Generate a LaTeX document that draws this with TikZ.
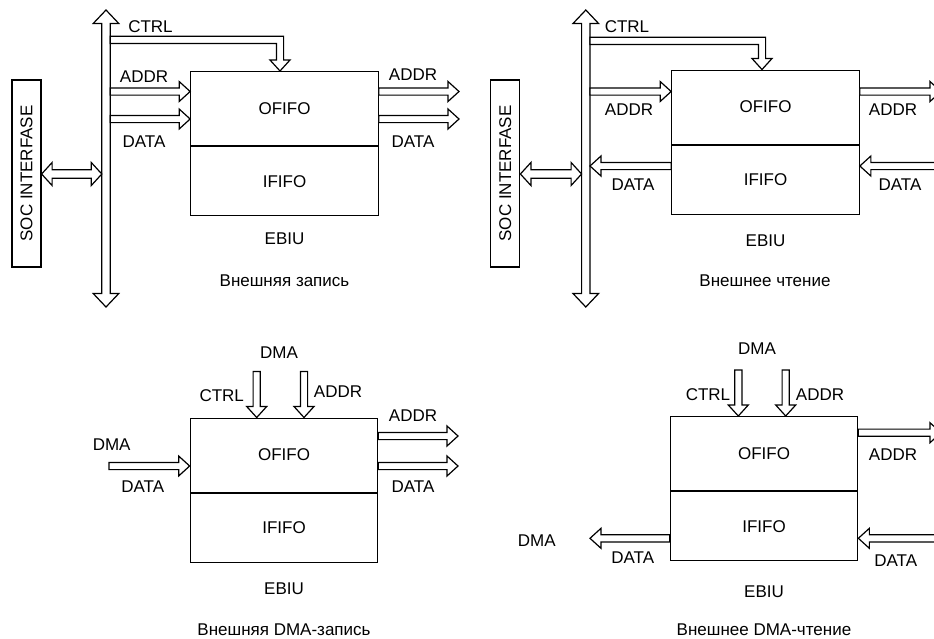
\documentclass[tikz,border=0pt]{standalone}
\usepackage{fontspec}
\setmainfont{Liberation Sans}
\usetikzlibrary{calc}
\newcommand\lblfont{\fontsize{17}{20}\selectfont}

\tikzset{
  % outlined bus arrow: #1 half shaft, #2 half head, #3 head length
  onehead/.style n args={3}{draw, fill=white, line width=1.2pt, line join=miter,
    to path={($(\tikztostart)!#1!90:(\tikztotarget)$)
      -- ($(\tikztotarget)!#3!(\tikztostart)!#1!-90:(\tikztostart)$)
      -- ($(\tikztotarget)!#3!(\tikztostart)!#2!-90:(\tikztostart)$)
      -- (\tikztotarget)
      -- ($(\tikztotarget)!#3!(\tikztostart)!#2!90:(\tikztostart)$)
      -- ($(\tikztotarget)!#3!(\tikztostart)!#1!90:(\tikztostart)$)
      -- ($(\tikztostart)!#1!-90:(\tikztotarget)$) -- cycle}},
  twohead/.style n args={3}{draw, fill=white, line width=1.2pt, line join=miter,
    to path={(\tikztostart)
      -- ($(\tikztostart)!#3!(\tikztotarget)!#2!90:(\tikztotarget)$)
      -- ($(\tikztostart)!#3!(\tikztotarget)!#1!90:(\tikztotarget)$)
      -- ($(\tikztotarget)!#3!(\tikztostart)!#1!-90:(\tikztostart)$)
      -- ($(\tikztotarget)!#3!(\tikztostart)!#2!-90:(\tikztostart)$)
      -- (\tikztotarget)
      -- ($(\tikztotarget)!#3!(\tikztostart)!#2!90:(\tikztostart)$)
      -- ($(\tikztotarget)!#3!(\tikztostart)!#1!90:(\tikztostart)$)
      -- ($(\tikztostart)!#3!(\tikztotarget)!#1!-90:(\tikztotarget)$)
      -- ($(\tikztostart)!#3!(\tikztotarget)!#2!-90:(\tikztotarget)$)
      -- cycle}},
  pipe/.style={onehead={3.6pt}{10pt}{11pt}},
  bus/.style={twohead={4.2pt}{12.8pt}{13.5pt}},
  link/.style={twohead={4.2pt}{11.5pt}{10.5pt}},
  tube/.style={draw, fill=white, line width=1.2pt, line join=miter},
  fifo/.style={draw, line width=1.2pt, minimum width=187.5pt, inner sep=0pt, font=\lblfont},
  socbox/.style={draw, line width=1.2pt, minimum width=29pt, minimum height=187pt, inner sep=0pt, font=\lblfont},
  lbl/.style={inner sep=0pt, text height=12.2pt, text depth=0pt, font=\lblfont},
}

\begin{document}
\begin{tikzpicture}[x=1pt, y=-1pt]
  \useasboundingbox (0,0) rectangle (934,638);
  \clip (0,0) rectangle (934,638);

  % EBIU blocks, one per mode
  \foreach \nm/\cx/\ty/\ey in {a/284.5/71/238, b/765.5/69.5/240, c/284/417.5/588, d/764/416/591.7} {
    \node[fifo, minimum height=74pt, anchor=north] (ofifo-\nm) at (\cx,\ty) {OFIFO};
    \node[fifo, minimum height=69pt, anchor=north] (ififo-\nm) at (ofifo-\nm.south) {IFIFO};
    \node[lbl] (ebiu-\nm) at (\cx,\ey) {EBIU};
  }

  % system bus and SoC interface (top row)
  \foreach \nm/\sx/\bx in {a/26.5/106, b/505.3/585.8} {
    \node[socbox] (soc-\nm) at (\sx,173.5) {\rotatebox{90}{SOC INTERFASE}};
    \coordinate (bus-\nm-top) at (\bx,10);
    \coordinate (bus-\nm-bot) at (\bx,307);
    \coordinate (bus-\nm-l) at (\bx-4.2,174);
    \draw[bus] (bus-\nm-top) to (bus-\nm-bot);
    \draw[link] (soc-\nm.east |- bus-\nm-l) to (bus-\nm-l);
  }

  % CTRL from the bus into the box top
  \foreach \nm/\bx/\cx/\cy in {a/110.2/280/39.8, b/590/762/40.8} {
    \coordinate (ctrl-\nm) at (\cx,\cy);
    \draw[tube] (\bx,\cy-3.6) -- ($(ctrl-\nm)+(3.6,-3.6)$)
      -- ($(ctrl-\nm |- ofifo-\nm.north)+(3.6,-11)$) -- ++(6.4,0)
      -- (ctrl-\nm |- ofifo-\nm.north) -- ++(-10,-11) -- ++(6.4,0)
      -- ($(ctrl-\nm)+(-3.6,3.6)$) -- (\bx,\cy+3.6) -- cycle;
  }

  % external write
  \coordinate (addr-a-in) at (110.2,91.5);
  \coordinate (data-a-in) at (110.2,119);
  \coordinate (addr-a-out) at (459,91.5);
  \coordinate (data-a-out) at (459,119);
  \draw[pipe] (addr-a-in) to (ofifo-a.west |- addr-a-in);
  \draw[pipe] (data-a-in) to (ofifo-a.west |- data-a-in);
  \draw[pipe] (ofifo-a.east |- addr-a-out) to (addr-a-out);
  \draw[pipe] (ofifo-a.east |- data-a-out) to (data-a-out);

  % external read
  \coordinate (addr-b-in) at (590,91.5);
  \coordinate (data-b-out) at (590,166);
  \coordinate (addr-b-out) at (941,91.5);
  \coordinate (data-b-in) at (950,166);
  \draw[pipe] (addr-b-in) to (ofifo-b.west |- addr-b-in);
  \draw[pipe] (ififo-b.west |- data-b-out) to (data-b-out);
  \draw[pipe] (ofifo-b.east |- addr-b-out) to (addr-b-out);
  \draw[pipe] (data-b-in) to (ififo-b.east |- data-b-in);

  % external DMA write
  \coordinate (ctl-c) at (256.7,371.5);
  \coordinate (adr-c) at (304,371.5);
  \coordinate (data-c-in) at (109,466);
  \coordinate (addr-c-out) at (458,436);
  \coordinate (data-c-out) at (458,466);
  \draw[pipe] (ctl-c) to (ctl-c |- ofifo-c.north);
  \draw[pipe] (adr-c) to (adr-c |- ofifo-c.north);
  \draw[pipe] (data-c-in) to (ofifo-c.west |- data-c-in);
  \draw[pipe] (ofifo-c.east |- addr-c-out) to (addr-c-out);
  \draw[pipe] (ofifo-c.east |- data-c-out) to (data-c-out);

  % external DMA read
  \coordinate (ctl-d) at (738.3,370);
  \coordinate (adr-d) at (785.7,370);
  \coordinate (addr-d-out) at (941,432.7);
  \coordinate (data-d-out) at (590,538.3);
  \coordinate (data-d-in) at (950,538.3);
  \draw[pipe] (ctl-d) to (ctl-d |- ofifo-d.north);
  \draw[pipe] (adr-d) to (adr-d |- ofifo-d.north);
  \draw[pipe] (ofifo-d.east |- addr-d-out) to (addr-d-out);
  \draw[pipe] (ififo-d.west |- data-d-out) to (data-d-out);
  \draw[pipe] (data-d-in) to (ififo-d.east |- data-d-in);

  % labels
  \foreach[count=\i] \x/\y/\t in {%
    150.5/26/CTRL, 144/76/ADDR, 144/141/DATA, 413/74/ADDR, 413/141/DATA,
    284.5/280/Внешняя запись,
    627/26/CTRL, 629/109/ADDR, 633/184/DATA, 893/109/ADDR, 900/184/DATA,
    765/280/Внешнее чтение,
    279/352/DMA, 221.7/395/CTRL, 338/391.7/ADDR, 111.7/444/DMA, 142.7/486.7/DATA,
    413/415.7/ADDR, 413/486.7/DATA, 284/629/Внешняя DMA-запись,
    757/348/DMA, 708/394/CTRL, 820/394/ADDR, 893/454/ADDR, 632.7/557.3/DATA,
    536.7/540/DMA, 895.7/560/DATA, 764/629/Внешнее DMA-чтение} {
    \node[lbl] (txt-\i) at (\x,\y) {\t};
  }
\end{tikzpicture}
\end{document}
